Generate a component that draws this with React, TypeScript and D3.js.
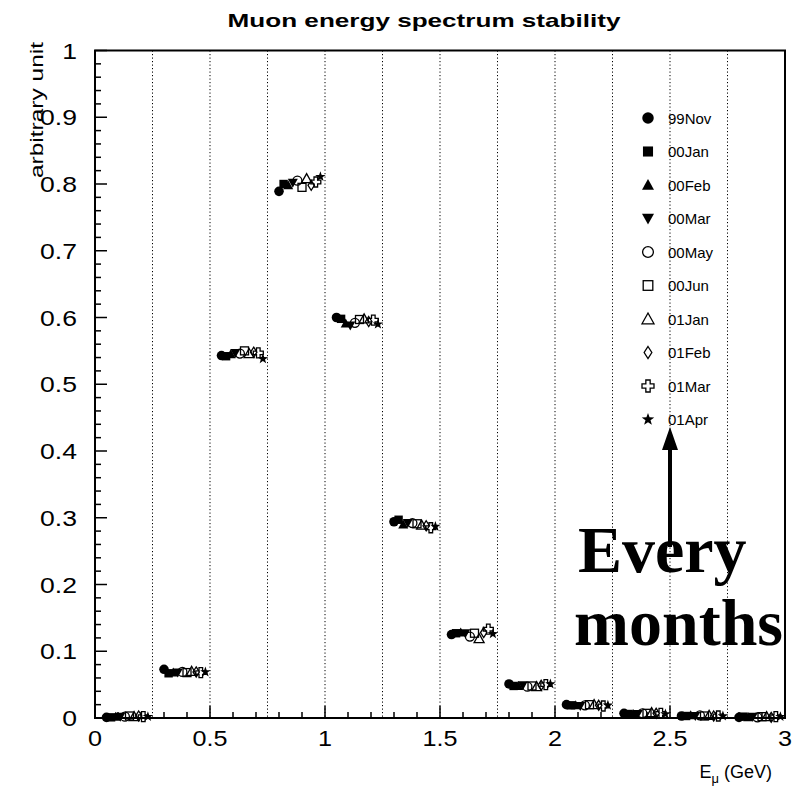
import React from "react";
import * as d3 from "d3";

const seriesNames = ["99Nov", "00Jan", "00Feb", "00Mar", "00May", "00Jun", "01Jan", "01Feb", "01Mar", "01Apr"];
const binStarts = [0, 0.25, 0.5, 0.75, 1.0, 1.25, 1.5, 1.75, 2.0, 2.25, 2.5, 2.75];
// values[bin][series]
const bin0 = [0.001, 0.001, 0.002, 0.002, 0.002, 0.003, 0.002, 0.003, 0.002, 0.002];
const bin1 = [0.073, 0.067, 0.068, 0.068, 0.069, 0.068, 0.070, 0.069, 0.068, 0.069];
const bin2 = [0.543, 0.542, 0.545, 0.547, 0.546, 0.550, 0.546, 0.548, 0.547, 0.538];
const bin3 = [0.789, 0.800, 0.798, 0.802, 0.805, 0.795, 0.808, 0.798, 0.803, 0.811];
const bin4 = [0.600, 0.598, 0.591, 0.588, 0.592, 0.597, 0.598, 0.594, 0.596, 0.590];
const bin5 = [0.294, 0.297, 0.290, 0.292, 0.292, 0.291, 0.289, 0.288, 0.285, 0.287];
const bin6 = [0.125, 0.127, 0.128, 0.127, 0.122, 0.127, 0.119, 0.128, 0.133, 0.126];
const bin7 = [0.051, 0.048, 0.048, 0.049, 0.047, 0.048, 0.047, 0.049, 0.050, 0.051];
const bin8 = [0.020, 0.019, 0.019, 0.018, 0.019, 0.020, 0.020, 0.019, 0.018, 0.019];
const bin9 = [0.007, 0.006, 0.006, 0.006, 0.007, 0.007, 0.008, 0.007, 0.007, 0.006];
const bin10 = [0.003, 0.003, 0.004, 0.003, 0.004, 0.003, 0.004, 0.003, 0.003, 0.003];
const bin11 = [0.001, 0.002, 0.001, 0.002, 0.001, 0.002, 0.002, 0.001, 0.002, 0.002];
const binValues = [bin0, bin1, bin2, bin3, bin4, bin5, bin6, bin7, bin8, bin9, bin10, bin11];
const xTickLabels = ["0", "0.5", "1", "1.5", "2", "2.5", "3"];
const yTickLabels = ["0", "0.1", "0.2", "0.3", "0.4", "0.5", "0.6", "0.7", "0.8", "0.9", "1"];

const W = 792, H = 792;
const L = 95, R = 785, T = 50.5, B = 718;

function Marker({ type, x, y, s }: { type: number; x: number; y: number; s: number }) {
  const sw = 1.3;
  switch (type) {
    case 0:
      return <circle cx={x} cy={y} r={s * 0.48} fill="black" />;
    case 1:
      return <rect x={x - s * 0.42} y={y - s * 0.42} width={s * 0.84} height={s * 0.84} fill="black" />;
    case 2:
      return <path d={`M${x},${y - s * 0.5}L${x + s * 0.5},${y + s * 0.4}L${x - s * 0.5},${y + s * 0.4}Z`} fill="black" />;
    case 3:
      return <path d={`M${x},${y + s * 0.5}L${x + s * 0.5},${y - s * 0.4}L${x - s * 0.5},${y - s * 0.4}Z`} fill="black" />;
    case 4:
      return <circle cx={x} cy={y} r={s * 0.45} fill="none" stroke="black" strokeWidth={sw} />;
    case 5:
      return <rect x={x - s * 0.4} y={y - s * 0.4} width={s * 0.8} height={s * 0.8} fill="none" stroke="black" strokeWidth={sw} />;
    case 6:
      return <path d={`M${x},${y - s * 0.5}L${x + s * 0.5},${y + s * 0.4}L${x - s * 0.5},${y + s * 0.4}Z`} fill="none" stroke="black" strokeWidth={sw} />;
    case 7:
      return <path d={`M${x},${y - s * 0.5}L${x + s * 0.32},${y}L${x},${y + s * 0.5}L${x - s * 0.32},${y}Z`} fill="none" stroke="black" strokeWidth={sw} />;
    case 8: {
      const a = s * 0.5, b = s * 0.18;
      return (
        <path
          d={`M${x - b},${y - a}L${x + b},${y - a}L${x + b},${y - b}L${x + a},${y - b}L${x + a},${y + b}L${x + b},${y + b}L${x + b},${y + a}L${x - b},${y + a}L${x - b},${y + b}L${x - a},${y + b}L${x - a},${y - b}L${x - b},${y - b}Z`}
          fill="none"
          stroke="black"
          strokeWidth={sw}
        />
      );
    }
    default: {
      const pts: string[] = [];
      for (let i = 0; i < 10; i++) {
        const r = i % 2 === 0 ? s * 0.55 : s * 0.22;
        const ang = -Math.PI / 2 + (i * Math.PI) / 5;
        pts.push(`${x + r * Math.cos(ang)},${y + r * Math.sin(ang)}`);
      }
      return <path d={`M${pts.join("L")}Z`} fill="black" />;
    }
  }
}

export default function App() {
  const xs = d3.scaleLinear().domain([0, 3]).range([L, R]);
  const ys = d3.scaleLinear().domain([0, 1]).range([B, T]);

  const xMinor = d3.range(0, 31).map((i) => i / 10);
  const yMinor = d3.range(0, 51).map((i) => i / 50);
  const grid = d3.range(1, 12).map((i) => i * 0.25);

  const font = "'Liberation Sans', Arial, Helvetica, sans-serif";
  const serif = "'Liberation Serif', 'Times New Roman', serif";

  return (
    <svg width={W} height={H} style={{ position: "absolute", left: 0, top: 0, background: "white" }}>
      <rect x={0} y={0} width={W} height={H} fill="white" />
      <text transform="translate(424,27) scale(1.45,1)" textAnchor="middle" fontFamily={font} fontWeight="bold" fontSize={18}>
        Muon energy spectrum stability
      </text>
      {grid.map((g) => (
        <line key={g} x1={xs(g)} x2={xs(g)} y1={T} y2={B} stroke="#000" strokeWidth={1} strokeDasharray="1.2,2.3" />
      ))}
      {xMinor.map((v, i) => (
        <line key={"xt" + i} x1={xs(v)} x2={xs(v)} y1={B} y2={B - (i % 5 === 0 ? 12 : 6)} stroke="black" strokeWidth={1.5} />
      ))}
      {yMinor.map((v, i) => (
        <line key={"yt" + i} x1={L} x2={L + (i % 5 === 0 ? 12 : 6)} y1={ys(v)} y2={ys(v)} stroke="black" strokeWidth={1.5} />
      ))}
      <rect x={L} y={T} width={R - L} height={B - T} fill="none" stroke="black" strokeWidth={2} />
      {xTickLabels.map((t) => (
        <text key={t} transform={`translate(${xs(+t)},746) scale(1.12,1)`} textAnchor="middle" fontFamily={font} fontSize={22.5}>
          {t}
        </text>
      ))}
      {yTickLabels.map((t) => (
        <text key={t} transform={`translate(77,${ys(+t) + 8}) scale(1.18,1)`} textAnchor="end" fontFamily={font} fontSize={22.5}>
          {t}
        </text>
      ))}
      <text transform={`translate(43,42) rotate(-90)`} textAnchor="end" fontFamily={font} fontSize={19} textLength={136} lengthAdjust="spacingAndGlyphs">
        arbitrary unit
      </text>
      <text x={772} y={778} textAnchor="end" fontFamily={font} fontSize={18}>
        E<tspan dy={5} fontSize={13}>μ</tspan>
        <tspan dy={-5}> (GeV)</tspan>
      </text>
      {binValues.map((vals, b) =>
        vals.map((v, j) => (
          <Marker key={b + "-" + j} type={j} x={xs(binStarts[b] + 0.05 + j * 0.02)} y={ys(v)} s={10} />
        ))
      )}
      {seriesNames.map((n, j) => (
        <g key={n}>
          <Marker type={j} x={648} y={118 + j * 33.5} s={12} />
          <text x={668} y={118 + j * 33.5 + 5.5} fontFamily={font} fontSize={15}>
            {n}
          </text>
        </g>
      ))}
      <line x1={670} x2={670} y1={547} y2={445} stroke="black" strokeWidth={4} />
      <path d="M670,427L678,450L662,450Z" fill="black" />
      <text x={578} y={572} fontFamily={serif} fontWeight="bold" fontSize={66}>
        Every
      </text>
      <text x={574} y={645} fontFamily={serif} fontWeight="bold" fontSize={66}>
        months
      </text>
    </svg>
  );
}
